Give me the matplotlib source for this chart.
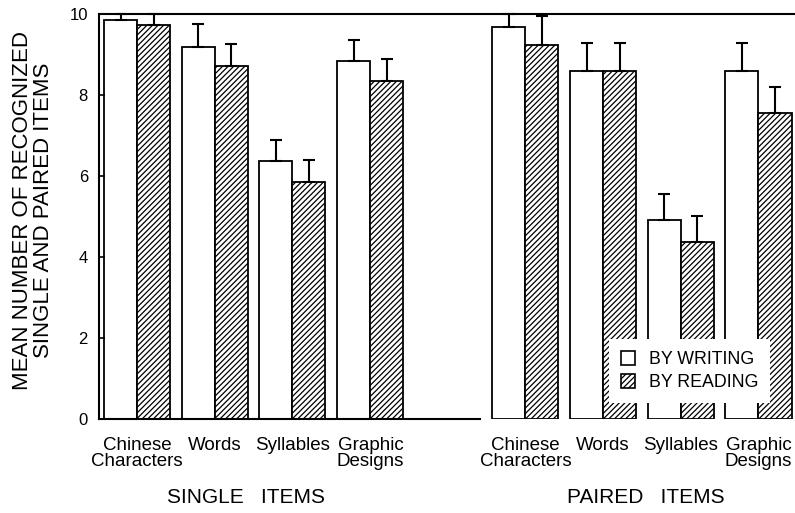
import numpy as np
import matplotlib
matplotlib.use("Agg")
import matplotlib.pyplot as plt
from matplotlib.patches import Patch
from matplotlib.transforms import blended_transform_factory

plt.rcParams['font.family'] = ['Liberation Sans', 'DejaVu Sans']
plt.rcParams['hatch.linewidth'] = 0.9

categories = ["Chinese\nCharacters", "Words", "Syllables", "Graphic\nDesigns"]
groups = ["SINGLE   ITEMS", "PAIRED   ITEMS"]

# mean values (single items then paired items)
writing = [9.85, 9.19, 6.37, 8.85, 9.67, 8.59, 4.91, 8.59]
reading = [9.73, 8.72, 5.86, 8.35, 9.23, 8.59, 4.37, 7.55]
# top of the (upper-only) error bars
writing_top = [10.0, 9.75, 6.89, 9.37, 10.0, 9.28, 5.56, 9.28]
reading_top = [10.0, 9.26, 6.40, 8.88, 9.96, 9.28, 5.01, 8.19]

writing = np.array(writing)
reading = np.array(reading)
w_err = np.array(writing_top) - writing
r_err = np.array(reading_top) - reading

pos = np.array([0, 1, 2, 3, 5, 6, 7, 8], dtype=float)
width = 0.425

fig = plt.figure(figsize=(7.95, 5.13), dpi=100)
ax = fig.add_axes([99 / 795, (513 - 419) / 513, 696 / 795, 405 / 513])

ax.bar(pos - width / 2, writing, width, color='white', edgecolor='black', linewidth=1.3)
ax.bar(pos + width / 2, reading, width, color='white', edgecolor='black', linewidth=1.3, hatch='//////')

zero = np.zeros_like(w_err)
ax.errorbar(pos - width / 2, writing, yerr=[zero, w_err], fmt='none', ecolor='black',
            elinewidth=1.5, capsize=4.5, capthick=1.5, clip_on=False)
ax.errorbar(pos + width / 2, reading, yerr=[zero, r_err], fmt='none', ecolor='black',
            elinewidth=1.5, capsize=4.5, capthick=1.5, clip_on=False)

ax.set_xlim(-0.49, 8.47)
ax.set_ylim(0, 10)
ax.set_yticks([0, 2, 4, 6, 8, 10])
ax.tick_params(axis='y', direction='in', length=4, width=1.2, pad=8, labelsize=12)
ax.set_xticks(pos)
ax.set_xticklabels(categories * 2, fontsize=13.5, linespacing=0.95)
for lab in ax.get_xticklabels():
    if lab.get_text().startswith("Graphic"):
        lab.set_multialignment('right')
ax.tick_params(axis='x', length=0, pad=13)

ax.spines['right'].set_visible(False)
ax.spines['left'].set_linewidth(1.5)
ax.spines['top'].set_linewidth(1.5)
ax.spines['bottom'].set_linewidth(1.5)
ax.spines['bottom'].set_bounds(-0.49, 4.41)

ax.set_ylabel("MEAN NUMBER OF RECOGNIZED\nSINGLE AND PAIRED ITEMS", fontsize=16, linespacing=1.0)
ax.yaxis.set_label_coords(-0.065, 0.516)

trans = blended_transform_factory(ax.transData, ax.transAxes)
ax.text(1.4, -0.193, groups[0], transform=trans, ha='center', va='center', fontsize=15)
ax.text(6.55, -0.193, groups[1], transform=trans, ha='center', va='center', fontsize=15)

handles = [Patch(facecolor='white', edgecolor='black', linewidth=1.2),
           Patch(facecolor='white', edgecolor='black', linewidth=1.2, hatch='//////')]
leg = ax.legend(handles, ["BY WRITING", "BY READING"], loc='lower left',
                bbox_to_anchor=(0.733, 0.04), borderaxespad=0, fontsize=12.8, frameon=True,
                handlelength=0.8, handleheight=0.8, handletextpad=0.8,
                borderpad=0.65, labelspacing=0.35, fancybox=False)
leg.get_frame().set_edgecolor('none')
leg.get_frame().set_facecolor('white')
leg.get_frame().set_alpha(1)

fig.savefig("out.png", dpi=100)
